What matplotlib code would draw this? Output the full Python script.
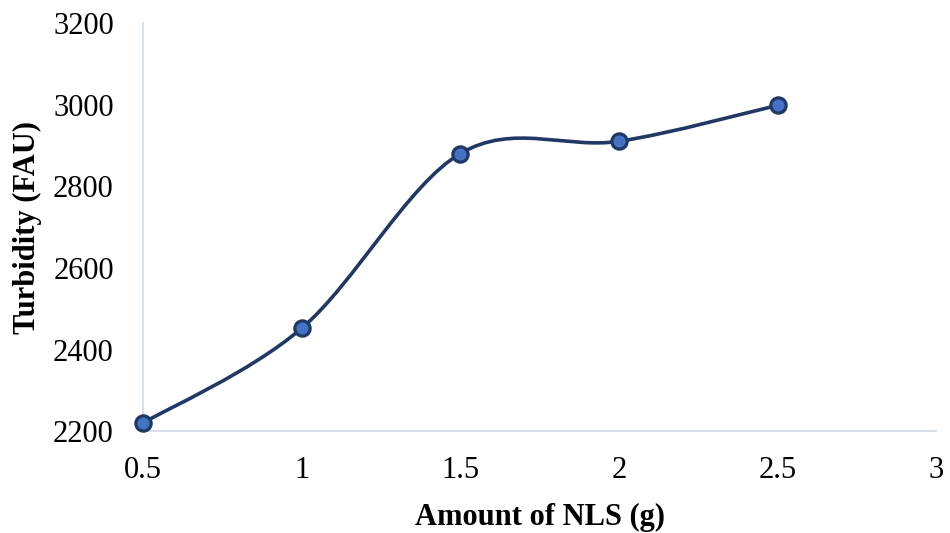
import numpy as np
import matplotlib
matplotlib.use('Agg')
from matplotlib import pyplot as plt
from matplotlib.path import Path
from matplotlib.patches import PathPatch

# Data
nls_amount = [0.5, 1.0, 1.5, 2.0, 2.5]
turbidity = [2220, 2452, 2880, 2910, 2998]
x_ticks = [0.5, 1, 1.5, 2, 2.5, 3]
x_tick_labels = ['0.5', '1', '1.5', '2', '2.5', '3']
y_ticks = [2200, 2400, 2600, 2800, 3000, 3200]

plt.rcParams['font.family'] = ['Liberation Serif', 'DejaVu Serif']

line_col = '#203864'
fill_col = '#4472C4'
spine_col = '#D6DCE5'


def smooth_path(xs, ys):
    # Excel-style smoothed line: Catmull-Rom tangents turned into cubic Beziers
    pts = np.column_stack([xs, ys]).astype(float)
    n = len(pts)
    verts = [pts[0]]
    codes = [Path.MOVETO]
    for i in range(n - 1):
        p0 = pts[i - 1] if i > 0 else pts[i]
        p1 = pts[i]
        p2 = pts[i + 1]
        p3 = pts[i + 2] if i + 2 < n else pts[i + 1]
        c1 = p1 + (p2 - p0) / 6.0
        c2 = p2 - (p3 - p1) / 6.0
        verts += [c1, c2, p2]
        codes += [Path.CURVE4] * 3
    return Path(verts, codes)


fig = plt.figure(figsize=(9.5, 5.33), dpi=100)
ax = fig.add_axes([0.1505, 0.191, 0.835, 0.766])

ax.add_patch(PathPatch(smooth_path(nls_amount, turbidity), facecolor='none',
                       edgecolor=line_col, lw=2.6, zorder=2, capstyle='round'))
ax.plot(nls_amount, turbidity, linestyle='none', marker='o', markersize=11,
        markerfacecolor=fill_col, markeredgecolor=line_col, markeredgewidth=2.3,
        zorder=3, clip_on=False)

ax.set_xlim(0.5, 3)
ax.set_ylim(2200, 3200)
ax.set_xticks(x_ticks)
ax.set_xticklabels(x_tick_labels)
ax.set_yticks(y_ticks)

for side in ['top', 'right']:
    ax.spines[side].set_visible(False)
for side in ['left', 'bottom']:
    ax.spines[side].set_color(spine_col)
    ax.spines[side].set_linewidth(1.3)

ax.tick_params(axis='both', length=0, labelsize=22, colors='black')
ax.tick_params(axis='x', pad=18)
ax.tick_params(axis='y', pad=21)

ax.set_xlabel('Amount of NLS (g)', fontsize=22, fontweight='bold', labelpad=13)
ax.set_ylabel('Turbidity (FAU)', fontsize=22, fontweight='bold', labelpad=8)

fig.savefig('out.png', dpi=100)
